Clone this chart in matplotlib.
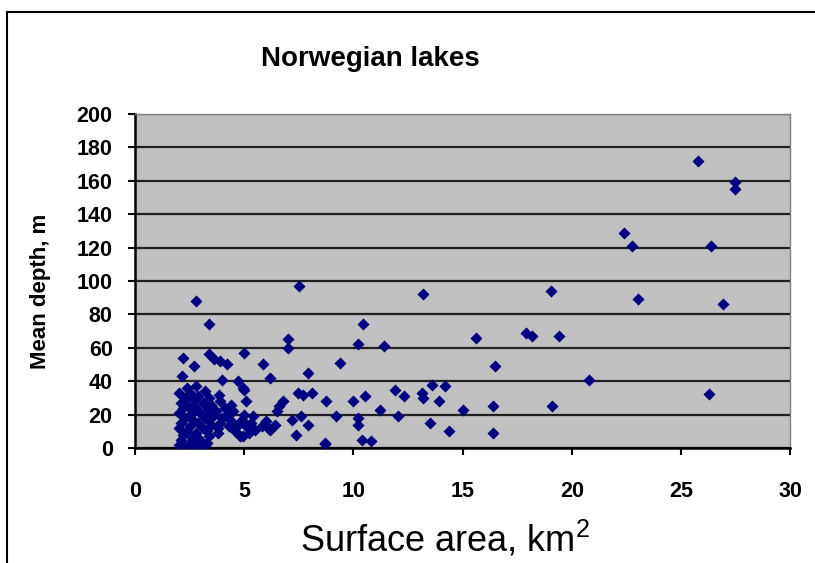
import numpy as np
import matplotlib.pyplot as plt
from matplotlib.lines import Line2D

plt.rcParams['font.family'] = ['Liberation Sans', 'DejaVu Sans']
plt.rcParams['mathtext.fontset'] = 'custom'
plt.rcParams['mathtext.rm'] = 'Liberation Sans'

# Surface area (km2) and mean depth (m)
area = [
    # dense cluster of small lakes
    2.0, 2.1, 2.2, 2.0, 2.1, 2.3, 2.0, 2.2, 2.1, 2.3, 2.0, 2.4,
    2.5, 2.6, 2.4, 2.5, 2.7, 2.5, 2.6, 2.4, 2.7, 2.5, 2.8,
    2.9, 3.0, 2.8, 3.1, 2.9, 3.2, 3.0, 2.8, 3.1, 2.9, 3.2,
    3.3, 3.4, 3.3, 3.5, 3.4, 3.6, 3.3, 3.5, 3.4,
    2.2, 2.7, 3.2,
    3.8, 3.9, 4.0, 3.7, 4.1, 3.9, 4.3, 4.4, 4.2, 4.5, 4.6, 4.7, 4.4, 3.8,
    4.9, 5.1, 5.0, 5.3, 5.4, 5.5, 5.2, 5.8, 6.0, 6.2, 6.4, 6.1,
    # scattered points
    2.8, 7.5, 3.4, 2.2, 3.4, 3.6, 3.9, 4.2, 2.7, 2.15, 5.0, 5.85, 6.2,
    4.0, 4.7, 5.0, 5.1, 7.0, 7.0, 7.9, 7.45, 7.7, 8.1, 6.8, 6.6, 7.2,
    7.6, 7.9, 7.35, 8.7, 6.5, 3.85, 4.95, 4.8, 4.95,
    13.2, 10.45, 10.2, 11.4, 15.6, 16.5, 9.4, 8.75, 10.0, 10.55, 11.9,
    12.3, 13.15, 13.2, 13.6, 14.2, 13.9, 11.2, 15.0, 16.4, 9.2, 10.2,
    10.2, 12.05, 13.5, 14.4, 16.4, 8.7, 10.4, 10.8,
    25.8, 27.45, 27.45, 22.4, 22.75, 26.35, 19.05, 23.05, 26.9, 17.9,
    18.2, 19.4, 20.8, 26.3, 19.1,
]
depth = [
    2, 5, 8, 12, 15, 18, 21, 24, 27, 30, 33, 36,
    3, 6, 10, 13, 16, 20, 23, 26, 29, 33, 37,
    2, 5, 9, 12, 15, 18, 21, 24, 27, 31, 34,
    3, 7, 10, 14, 17, 20, 23, 26, 30,
    0.5, 1, 1,
    12, 15, 18, 22, 24, 28, 13, 16, 20, 22, 10, 14, 26, 9,
    17, 13, 20, 15, 19, 11, 9, 13, 16, 11, 14, 12,
    88, 97, 74, 54, 56, 53, 52, 50, 49, 43, 57, 50, 42,
    41, 40, 35, 28, 65, 60, 45, 33, 32, 33, 28, 25, 17,
    19, 14, 8, 2.5, 22, 32, 36, 7, 7,
    92, 74, 62, 61, 66, 49, 51, 28, 28, 31, 35,
    31, 33, 30, 38, 37, 28, 23, 23, 25, 19, 18,
    14, 19, 15, 10, 9, 3, 5, 4,
    172, 159, 155, 128.5, 121, 121, 94, 89.5, 86, 69,
    67, 67, 41, 32.4, 25,
]

fig = plt.figure(figsize=(8.15, 5.63), dpi=100)
ax = fig.add_axes([0.1656, 0.2043, 0.804, 0.5933])

ax.set_facecolor('#c0c0c0')
ax.scatter(area, depth, marker='D', s=38, color='#000080', linewidths=0, zorder=3)

ax.set_xlim(0, 30)
ax.set_ylim(0, 200)
ax.set_xticks(np.arange(0, 31, 5))
ax.set_yticks(np.arange(0, 201, 20))

# horizontal gridlines only
ax.yaxis.grid(True, color='#202020', linewidth=1.6)
ax.set_axisbelow(True)

for side in ['top', 'right']:
    ax.spines[side].set_color('#808080')
    ax.spines[side].set_linewidth(1.0)
ax.spines['left'].set_linewidth(1.8)
ax.spines['bottom'].set_linewidth(1.8)

ax.tick_params(axis='y', direction='out', length=5, width=1.5, pad=11, labelsize=15.5)
ax.tick_params(axis='x', direction='out', length=5, width=1.5, pad=19, labelsize=15.5)
for lbl in ax.get_xticklabels() + ax.get_yticklabels():
    lbl.set_fontweight('bold')

ax.set_ylabel('Mean depth, m', fontsize=16, fontweight='bold')
ax.yaxis.set_label_coords(-0.128, 0.47)
fig.text(0.546, 0.042, 'Surface area, km$^2$', fontsize=26, ha='center', va='center')
fig.text(0.455, 0.896, 'Norwegian lakes', fontsize=20, fontweight='bold', ha='center', va='center')

# outer chart frame (left and top edges visible)
fig.add_artist(Line2D([0.0086, 0.0086], [0, 0.9787], color='black', linewidth=1.5))
fig.add_artist(Line2D([0.0086, 1.0], [0.9787, 0.9787], color='black', linewidth=1.5))

fig.savefig('out.png', dpi=100)
